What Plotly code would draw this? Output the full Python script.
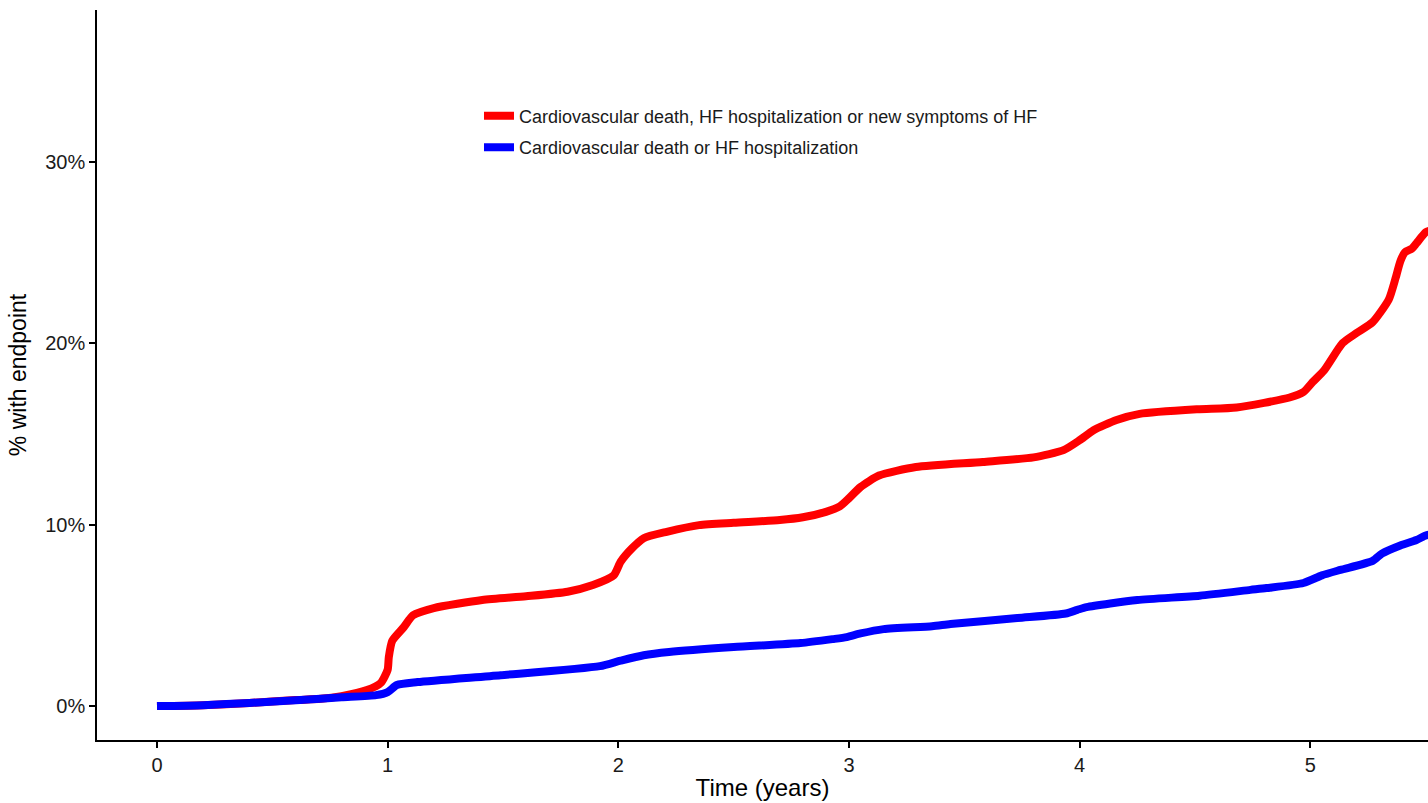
import plotly.graph_objects as go

# Data (time in years, cumulative % with endpoint)
red_name = "Cardiovascular death, HF hospitalization or new symptoms of HF"
red_t = [0, 0.2, 0.4, 0.6, 0.71, 0.8, 0.91, 0.97, 1.0, 1.005, 1.02, 1.07, 1.11, 1.2, 1.41, 1.6, 1.78,
         1.89, 1.98, 2.01, 2.06, 2.11, 2.21, 2.35, 2.5, 2.7, 2.8, 2.9, 2.96, 3.0, 3.05, 3.13, 3.29,
         3.58, 3.8, 3.93, 4.0, 4.06, 4.16, 4.26, 4.51, 4.68, 4.91, 4.97, 5.01, 5.06, 5.14, 5.2,
         5.27, 5.34, 5.37, 5.39, 5.41, 5.44, 5.46, 5.5, 5.52]
red_v = [0, 0.05, 0.17, 0.33, 0.4, 0.55, 0.88, 1.27, 2.0, 2.7, 3.6, 4.35, 5.0, 5.4, 5.84, 6.05, 6.3,
         6.67, 7.2, 7.95, 8.7, 9.25, 9.6, 9.97, 10.1, 10.25, 10.4, 10.7, 11.0, 11.45, 12.07, 12.7, 13.17,
         13.45, 13.7, 14.1, 14.65, 15.2, 15.76, 16.1, 16.35, 16.45, 17.0, 17.3, 17.85, 18.5, 20.0, 20.55,
         21.15, 22.4, 23.6, 24.5, 25.0, 25.2, 25.5, 26.1, 26.2]

blue_name = "Cardiovascular death or HF hospitalization"
blue_t = [0, 0.2, 0.4, 0.62, 0.8, 0.95, 1.0, 1.04, 1.13, 1.49, 1.92, 2.01, 2.11, 2.22, 2.5, 2.79,
          2.93, 2.99, 3.05, 3.15, 3.36, 3.44, 3.73, 3.94, 3.99, 4.03, 4.25, 4.52, 4.74, 4.81, 4.97,
          5.05, 5.13, 5.27, 5.31, 5.39, 5.46, 5.5, 5.52]
blue_v = [0, 0.05, 0.17, 0.33, 0.48, 0.6, 0.77, 1.16, 1.32, 1.7, 2.2, 2.5, 2.8, 2.98, 3.25, 3.47,
          3.69, 3.8, 4.0, 4.24, 4.4, 4.52, 4.85, 5.1, 5.3, 5.45, 5.84, 6.08, 6.4, 6.5, 6.78,
          7.2, 7.5, 8.0, 8.4, 8.85, 9.15, 9.4, 9.45]

x_ticks = [0, 1, 2, 3, 4, 5]
y_ticks = [0, 10, 20, 30]

font_family = "Liberation Sans, Arial, sans-serif"

fig = go.Figure()
fig.add_trace(go.Scatter(x=red_t, y=red_v, mode="lines", name=red_name, legendgroup="r",
                         line=dict(color="#ff0000", width=8, shape="spline", smoothing=0.6)))
fig.add_trace(go.Scatter(x=blue_t, y=blue_v, mode="lines", name=blue_name, legendgroup="b",
                         line=dict(color="#0000ff", width=8, shape="spline", smoothing=0.6)))

fig.update_layout(
    width=1428, height=803,
    margin=dict(l=97, r=0, t=10, b=63),
    plot_bgcolor="white", paper_bgcolor="white",
    font=dict(family=font_family, color="#1a1a1a"),
    showlegend=True,
    hovermode=False,
    legend=dict(x=0.287, y=0.880, xanchor="left", yanchor="top",
                font=dict(size=18, color="#1a1a1a"),
                tracegroupgap=5, traceorder="grouped",
                bgcolor="rgba(0,0,0,0)"),
)
fig.update_xaxes(
    range=[-0.26, 5.51], tickvals=x_ticks, ticktext=[str(v) for v in x_ticks],
    showgrid=False, zeroline=False, showline=True, linecolor="black", linewidth=1.5,
    ticks="outside", ticklen=6, tickwidth=1.5, tickcolor="black",
    tickfont=dict(size=20, color="#1a1a1a"),
    title=dict(text="Time (years)", font=dict(size=24, color="black"), standoff=4),
)
fig.update_yaxes(
    range=[-1.87, 38.35], tickvals=y_ticks, ticktext=[f"{v}%" for v in y_ticks],
    showgrid=False, zeroline=False, showline=True, linecolor="black", linewidth=1.5,
    ticks="outside", ticklen=6, tickwidth=1.5, tickcolor="black",
    tickfont=dict(size=20, color="#1a1a1a"),
    title=dict(text="% with endpoint", font=dict(size=23, color="black"), standoff=12),
)

fig.write_html(
    "out.html",
    config={"displayModeBar": False},
    post_script="document.body.style.margin='0';document.body.style.overflow='hidden';",
)
